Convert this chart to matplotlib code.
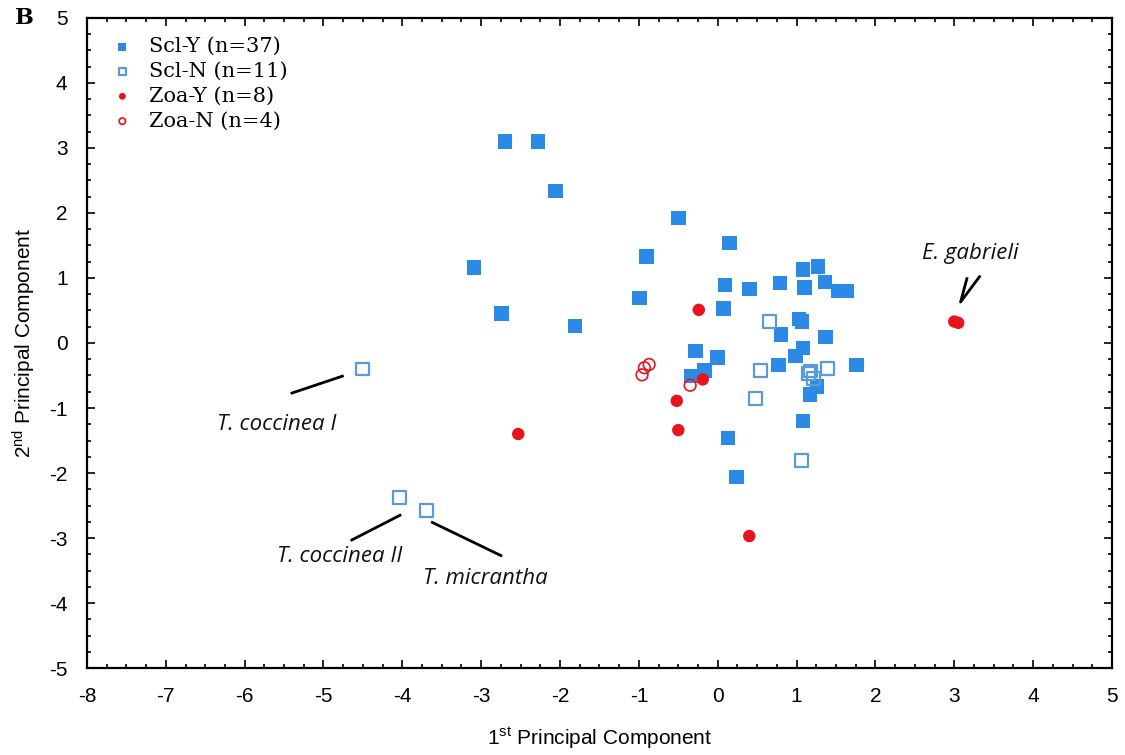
import numpy as np
import matplotlib.pyplot as plt
from matplotlib.ticker import MultipleLocator

plt.rcParams['axes.unicode_minus'] = False
plt.rcParams['mathtext.default'] = 'regular'

# Scl-Y (filled blue squares)
scl_y_x = [-2.70, -2.28, -2.06, -0.50, 0.15, -0.90, -3.09, -0.99, -2.74, -1.81,
           1.08, 1.27, 0.09, 0.40, 0.79, 1.10, 1.36, 1.53, 1.63, 0.07,
           1.03, 1.07, 0.80, 1.37, 1.08, 0.99, -0.28, 0.00, 1.76, 0.77,
           1.26, 1.17, -0.17, -0.33, 1.08, 0.13, 0.24]
scl_y_y = [3.10, 3.10, 2.34, 1.92, 1.54, 1.33, 1.16, 0.69, 0.45, 0.26,
           1.13, 1.18, 0.89, 0.83, 0.92, 0.85, 0.94, 0.80, 0.80, 0.53,
           0.37, 0.33, 0.13, 0.09, -0.08, -0.20, -0.12, -0.22, -0.34, -0.34,
           -0.67, -0.79, -0.42, -0.51, -1.20, -1.46, -2.06]

# Scl-N (open blue squares)
scl_n_x = [-4.51, -4.04, -3.69, 0.66, 0.54, 1.18, 1.39, 1.21, 1.15, 0.48, 1.06]
scl_n_y = [-0.40, -2.38, -2.58, 0.33, -0.42, -0.43, -0.39, -0.54, -0.47, -0.86, -1.81]

# Zoa-Y (filled red circles)
zoa_y_x = [-0.24, -0.19, -0.52, -0.50, -2.53, 0.40, 3.00, 3.05]
zoa_y_y = [0.51, -0.56, -0.89, -1.34, -1.40, -2.97, 0.33, 0.31]

# Zoa-N (open red circles)
zoa_n_x = [-0.96, -0.93, -0.87, -0.35]
zoa_n_y = [-0.49, -0.38, -0.33, -0.65]

blue = '#2b8ae6'
blue_edge = '#5a9ad8'
red = '#e8141c'

fig = plt.figure(figsize=(11.25, 7.55), dpi=100)
ax = fig.add_axes([0.0773, 0.1152, 0.9111, 0.861])

ax.scatter(scl_y_x, scl_y_y, marker='s', s=110, color=blue, edgecolors='none',
           label='Scl-Y (n=37)', zorder=3)
ax.scatter(scl_n_x, scl_n_y, marker='s', s=85, facecolors='none',
           edgecolors=blue_edge, linewidths=1.6, label='Scl-N (n=11)', zorder=3)
ax.scatter(zoa_y_x, zoa_y_y, marker='o', s=80, color=red, edgecolors='none',
           label='Zoa-Y (n=8)', zorder=3)
ax.scatter(zoa_n_x, zoa_n_y, marker='o', s=70, facecolors='none',
           edgecolors=red, linewidths=1.2, label='Zoa-N (n=4)', zorder=3)

ax.set_xlim(-8, 5)
ax.set_ylim(-5, 5)
ax.xaxis.set_major_locator(MultipleLocator(1))
ax.yaxis.set_major_locator(MultipleLocator(1))
ax.xaxis.set_minor_locator(MultipleLocator(0.25))
ax.yaxis.set_minor_locator(MultipleLocator(0.25))
ax.tick_params(which='both', direction='in', top=True, right=True,
               labelsize=15, width=1.2)
ax.tick_params(which='major', length=6, pad=14)
ax.tick_params(which='minor', length=3)
for lab in ax.get_xticklabels() + ax.get_yticklabels():
    lab.set_family('Liberation Sans')
for sp in ax.spines.values():
    sp.set_linewidth(1.6)

ax.set_xlabel('1$^{st}$ Principal Component', fontsize=15,
              family='Liberation Sans', labelpad=14)
ax.set_ylabel('2$^{nd}$ Principal Component', fontsize=15,
              family='Liberation Sans', labelpad=8)

leg = ax.legend(loc='upper left', bbox_to_anchor=(0.0, 0.993), frameon=False,
                prop={'family': 'DejaVu Serif', 'size': 15}, markerscale=0.55,
                handletextpad=0.3, labelspacing=0.28, borderaxespad=0.3)

# annotations
itf = dict(fontsize=16, style='italic', family='Open Sans', color='#111111')
ax.plot([-5.4, -4.76], [-0.77, -0.51], color='black', lw=2)
ax.text(-5.6, -1.25, 'T. coccinea I', ha='center', va='center', **itf)
ax.plot([-4.64, -4.03], [-3.03, -2.65], color='black', lw=2)
ax.text(-4.8, -3.29, 'T. coccinea II', ha='center', va='center', **itf)
ax.plot([-3.62, -2.75], [-2.76, -3.27], color='black', lw=2)
ax.text(-2.95, -3.63, 'T. micrantha', ha='center', va='center', **itf)
ax.text(3.2, 1.38, 'E. gabrieli', ha='center', va='center', **itf)
ax.plot([3.16, 3.08, 3.32], [0.99, 0.63, 1.02], color='black', lw=2)

fig.text(0.013, 0.968, 'B', fontsize=16, fontweight='bold', family='DejaVu Serif')

fig.savefig('out.png', dpi=100)
